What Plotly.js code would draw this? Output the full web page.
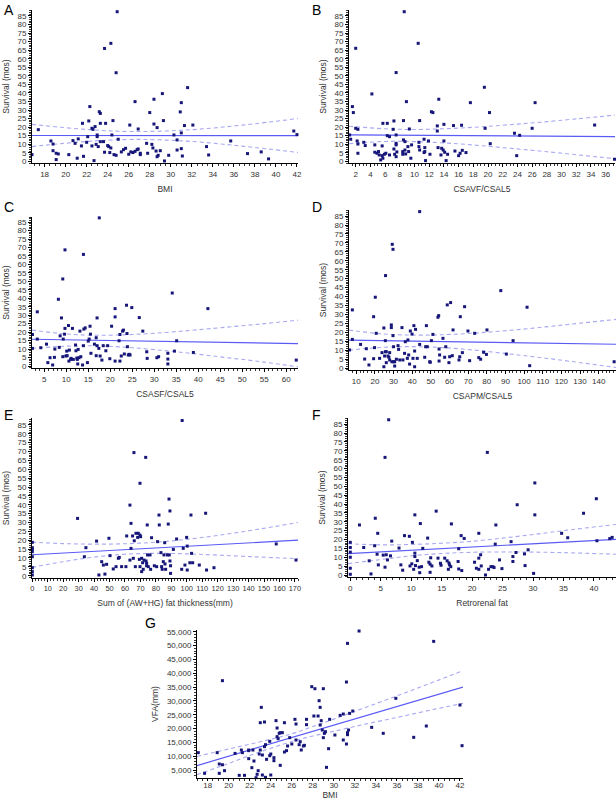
<!DOCTYPE html>
<html><head><meta charset="utf-8">
<script src="https://cdn.plot.ly/plotly-3.0.1.min.js"></script>
<style>body{margin:0;background:#fff}#c{width:616px;height:800px}</style>
</head><body><div id="c"></div>
<script>
// ---------- DATA ----------
// Panel A: Survival vs BMI
const A_x = [16.8,17.4,18.6,18.8,18.8,19.1,19.3,19.1,20.3,20.7,20.9,21.2,21.1,21.6,21.5,21.7,22.0,22.1,22.2,22.3,22.5,22.6,22.5,22.8,22.7,22.9,23.0,23.0,23.1,23.2,23.3,23.3,23.3,23.7,23.6,23.7,23.8,24.0,24.1,24.2,24.3,24.3,24.4,24.5,24.6,24.8,24.8,24.9,25.0,25.3,25.5,25.7,26.1,26.0,26.2,26.4,26.6,26.6,26.8,26.9,26.9,27.1,27.1,27.7,27.8,28.0,28.2,28.3,28.4,28.4,28.6,28.7,28.7,28.8,29.0,29.2,29.3,29.4,29.8,30.3,30.6,30.6,30.9,31.0,31.0,31.0,31.1,31.3,31.6,32.1,33.4,33.6,35.7,37.3,38.6,39.3,41.7,42.0];
const A_y = [3.9,18.5,11.9,10.1,6.2,4.7,4.3,1.0,3.9,12.1,10.5,13.1,1.8,22.2,9.0,2.9,11.1,14.4,23.6,32.0,19.3,18.7,9.0,20.3,0.4,9.9,15.4,14.4,8.6,29.0,28.0,11.5,22.2,66.0,11.5,5.3,22.2,9.2,8.6,5.1,7.8,69.0,15.4,23.8,3.9,51.8,3.5,87.5,12.9,5.5,6.8,7.6,21.2,4.1,5.5,5.1,34.9,5.8,6.8,18.9,7.2,4.7,3.9,10.5,4.7,28.5,9.9,7.8,36.3,21.8,6.0,19.7,2.7,3.5,6.2,39.6,23.8,0.2,3.5,15.4,6.6,12.5,28.9,34.3,7.4,16.6,3.1,20.9,43.1,21.2,8.6,3.7,11.9,4.5,5.5,1.4,17.7,15.6];
const A_fitX = [16.8, 42.1], A_fitY = [15.1, 15.0];
const A_ciX = [16.8, 22, 26.5, 32, 37, 42.1];
const A_ciU = [21.6, 18.6, 17.4, 18.5, 21.3, 25.0];
const A_ciL = [8.6, 11.6, 12.8, 11.6, 8.7, 5.2];

// Panel B: Survival vs CSAVF/CSAL5
const B_x = [1.18,1.32,1.55,1.68,2.0,2.0,2.3,2.2,2.3,2.3,3.1,3.3,4.2,4.6,4.6,4.9,5.1,5.2,5.4,5.6,5.6,5.7,5.7,5.9,6.1,6.3,6.3,6.6,6.6,7.1,7.2,7.2,7.3,7.5,7.5,7.5,7.5,7.6,7.5,8.4,8.4,8.5,8.6,8.5,8.7,8.7,8.8,8.9,9.1,9.2,9.3,9.5,9.6,10.5,10.7,10.6,10.6,10.7,11.3,11.4,11.3,11.4,11.5,11.9,12.1,12.3,12.5,13.1,13.1,13.2,13.3,13.6,13.7,13.9,14.0,14.0,14.1,14.3,14.5,15.3,15.5,16.0,16.2,16.4,16.5,17.0,17.6,19.5,19.6,20.2,20.3,23.6,23.9,24.3,26.0,26.4,34.5,37.2];
const B_y = [15.4,12.9,32.0,28.5,66.1,19.3,18.7,11.9,10.1,4.7,11.1,9.2,39.4,9.6,5.3,4.7,5.7,3.7,0.8,9.0,3.3,1.8,22.2,4.1,4.7,22.2,15.0,14.4,3.7,18.7,23.6,7.2,4.1,51.9,15.4,10.5,9.6,5.5,2.7,5.7,4.1,12.5,87.5,23.8,11.5,6.6,4.3,34.9,8.6,5.7,18.9,1.8,9.6,69.0,23.8,11.1,8.6,6.6,12.9,8.0,5.1,5.7,0.4,11.9,4.1,29.0,28.5,20.7,17.7,8.0,36.3,3.7,7.6,6.6,11.9,21.6,5.3,0.4,4.1,20.9,6.0,3.3,4.7,21.1,6.4,5.1,34.3,43.3,19.3,28.5,10.3,16.4,3.3,15.2,19.3,34.3,21.2,1.2];
const B_fitX = [1.09, 37.27], B_fitY = [15.5, 14.4];
const B_ciX = [1.09, 6, 10, 16, 22, 28, 37.27];
const B_ciU = [20.5, 19.0, 18.6, 19.4, 21.1, 23.2, 27.0];
const B_ciL = [10.3, 11.6, 11.5, 10.2, 8.0, 5.6, 1.5];

// Panel C: Survival vs CSASF/CSAL5
const C_x = [2.3,2.3,3.4,3.4,4.2,5.5,5.8,6.3,6.9,7.3,7.4,8.2,8.4,8.6,8.9,9.2,9.2,9.3,9.6,9.7,9.7,9.9,10.1,10.2,10.5,10.6,10.7,11.0,11.1,11.4,11.6,12.1,12.2,12.4,12.5,12.6,12.7,12.9,13.1,13.3,13.7,13.9,13.9,14.0,14.3,14.8,15.0,15.2,15.4,15.5,15.6,16.4,16.8,16.8,17.0,17.0,17.4,17.7,18.1,18.4,19.0,19.4,19.9,20.3,21.1,21.1,21.1,22.0,22.2,22.2,22.5,22.8,23.0,23.2,23.7,23.8,23.9,24.1,24.3,24.5,24.9,26.6,27.4,28.3,28.4,30.6,31.0,33.1,33.1,33.1,34.1,34.6,35.1,38.9,42.2,62.3,17.5];
const C_y = [18.6,10.4,32.0,15.9,10.8,12.9,2.0,4.9,0.6,5.1,10.0,39.4,11.0,17.8,28.4,5.5,51.4,15.9,18.8,68.6,22.2,5.9,8.8,6.1,23.9,2.9,9.4,3.9,4.5,22.2,3.9,12.4,9.0,4.7,3.9,1.2,9.8,4.9,20.6,5.5,0.6,65.9,12.0,21.8,22.5,2.0,14.7,15.9,23.5,18.8,7.5,12.9,16.7,6.1,12.0,28.4,10.4,5.9,3.5,12.0,9.0,12.0,4.3,23.5,33.9,29.0,2.9,14.9,18.6,2.9,5.9,20.6,21.2,7.1,35.9,19.2,11.4,6.5,6.9,6.5,34.5,28.6,20.6,8.4,4.5,4.9,5.5,7.5,4.1,1.2,43.1,8.8,14.9,8.0,33.9,3.5,87.5];
const C_fitX = [2.2, 62.7], C_fitY = [15.8, 13.2];
const C_ciX = [2.2, 10, 17, 25, 35, 45, 55, 62.7];
const C_ciU = [21.2, 18.9, 18.2, 18.6, 20.3, 22.6, 25.0, 27.1];
const C_ciL = [10.4, 11.7, 11.9, 10.8, 8.4, 5.4, 2.3, -0.5];

// Panel D: Survival vs CSAPM/CSAL5
const D_x = [5.9,6.4,7.9,7.9,12.3,14.5,15.4,16.8,19.3,19.3,19.8,20.2,20.7,22.5,23.8,24.8,24.8,25.2,25.6,25.6,25.7,26.1,26.1,27.0,27.5,27.9,27.9,28.8,28.8,29.1,29.3,29.7,29.7,30.0,30.0,30.6,30.6,31.5,32.4,32.7,33.3,34.5,35.0,35.9,36.3,37.4,37.7,38.1,38.6,39.0,39.9,40.4,40.9,41.3,41.3,41.8,42.7,44.0,46.7,47.2,47.6,48.1,49.4,49.7,50.3,51.1,53.8,54.2,54.4,54.7,54.4,56.5,57.4,58.0,58.8,59.7,60.1,60.6,61.5,61.9,65.1,65.5,65.8,66.9,68.1,69.9,70.8,73.5,75.7,76.7,78.3,79.8,80.1,87.5,90.5,94.1,101.6,103.0,148.3,44.0];
const D_y = [18.8,10.1,32.5,16.0,13.2,5.0,10.8,1.7,28.7,5.2,11.4,39.6,19.4,5.4,8.6,22.4,0.7,6.7,15.3,9.1,51.7,9.1,3.0,6.7,6.0,4.5,8.6,22.6,24.1,3.5,69.2,66.4,18.1,11.9,3.5,1.1,3.5,4.9,12.5,10.4,4.5,22.6,4.5,8.2,14.7,5.4,15.7,7.3,2.2,20.7,19.0,5.4,23.7,9.5,0.7,21.6,5.4,13.2,6.0,11.9,23.7,11.9,3.5,3.2,15.3,18.8,28.4,29.3,10.6,7.3,3.9,16.6,6.0,11.9,35.3,3.0,6.3,36.6,6.9,21.3,4.5,6.3,28.7,8.6,34.3,20.7,4.1,19.4,5.8,4.9,8.8,7.6,21.3,43.3,7.8,15.3,34.0,1.3,3.5,87.5];
const D_fitX = [6.1, 149.3], D_fitY = [15.6, 13.3];
const D_ciX = [6.1, 25, 45, 65, 85, 105, 125, 149.3];
const D_ciU = [21.2, 19.0, 18.4, 19.0, 20.4, 22.3, 24.5, 27.2];
const D_ciL = [10.0, 11.6, 11.9, 10.8, 8.7, 6.3, 3.7, 0.3];

// Panel E: Survival vs Sum of (AW+HG) fat thickness
const E_x = [0,0,0,0,0,0,0,0,29.3,33.7,34.7,41.6,43.1,44.9,46.0,47.0,48.1,49.6,50.3,52.4,54.2,55.7,56.3,57.8,60.6,61.1,63.2,63.2,63.9,63.9,64.9,65.4,65.8,66.0,66.7,67.1,68.2,68.6,69.3,69.7,69.7,69.7,70.1,70.8,70.8,71.4,71.8,72.3,73.4,73.6,74.0,74.0,74.4,74.6,75.1,76.2,76.6,77.2,79.0,80.5,81.1,82.0,82.2,83.3,83.7,84.1,84.8,85.2,85.7,85.9,86.3,87.4,88.0,88.5,88.7,89.1,89.1,89.5,89.5,91.3,93.4,96.7,97.7,98.8,99.9,100.3,100.3,102.0,102.7,103.1,103.8,108.1,112.2,112.8,117.6,157.9,170.7,97.0];
const E_y = [18.8,15.8,14.8,13.5,10.7,4.5,2.3,0.4,32.3,10.7,15.8,19.5,0.4,7.9,6.0,0.9,6.4,21.1,11.3,3.8,5.1,9.8,10.3,5.1,5.1,22.4,39.8,8.8,29.5,15.4,22.4,9.8,69.4,19.7,5.1,23.9,21.6,23.9,9.2,52.1,22.9,5.1,22.0,9.8,2.3,7.3,3.6,8.8,66.7,8.3,7.0,5.6,28.6,11.7,5.1,11.7,3.6,21.4,5.6,5.1,19.2,34.2,28.6,13.0,5.1,3.6,7.9,11.7,18.6,6.6,3.6,11.7,29.1,43.2,11.7,36.5,8.3,5.6,1.3,14.8,20.7,3.6,15.4,6.0,21.6,16.7,3.2,7.3,34.2,12.6,7.3,6.0,35.2,3.2,4.5,17.9,8.8,87.5];
const E_fitX = [-0.2, 172.0], E_fitY = [11.8, 20.0];
const E_ciX = [-0.2, 20, 40, 60, 80, 100, 120, 145, 172.0];
const E_ciU = [18.9, 18.1, 17.8, 18.0, 18.9, 20.5, 22.7, 26.0, 30.0];
const E_ciL = [4.7, 7.9, 10.5, 12.1, 12.6, 12.3, 11.6, 10.6, 9.6];

// Panel F: Survival vs Retrorenal fat
const F_x = [0,0,0,0,0,0,1.5,2.2,3.1,3.4,4.0,4.1,4.4,4.5,4.6,5.4,5.7,5.7,5.9,6.1,6.3,6.6,6.8,8.0,8.3,8.6,8.9,9.7,9.8,10.1,10.2,10.4,10.6,10.6,10.6,10.7,11.0,11.3,11.4,11.5,11.7,11.9,12.7,12.9,13.1,13.1,13.2,13.4,14.1,14.4,14.8,14.9,15.5,15.9,16.1,16.2,16.3,16.5,16.6,17.7,17.8,17.8,18.2,18.3,18.7,20.4,20.7,21.1,21.1,21.1,21.4,21.5,22.2,22.5,22.7,23.1,23.4,23.6,23.8,23.9,24.5,24.9,26.4,26.7,26.7,27.2,27.4,28.6,28.7,29.2,30.1,30.3,30.3,34.7,35.7,38.3,40.4,40.5,42.6,43.0];
const F_y = [18.4,15.5,12.9,10.0,3.8,0.4,28.2,15.5,8.0,0.6,16.5,32.0,11.7,23.5,5.7,11.2,66.3,4.4,11.4,8.5,87.5,10.8,19.1,15.2,5.7,2.7,22.2,21.8,5.1,6.3,18.4,3.2,33.9,12.3,10.4,5.3,8.1,4.4,1.3,29.0,4.7,15.0,20.8,7.2,6.1,1.5,9.7,5.1,36.0,9.5,6.6,5.5,9.5,8.0,3.2,6.8,5.7,4.7,28.8,7.6,14.8,3.4,22.2,2.5,20.6,7.2,3.8,23.5,9.5,3.2,11.4,5.1,0.0,69.1,3.2,4.7,4.7,4.2,17.4,28.2,8.5,3.6,18.8,10.4,7.6,12.7,39.6,11.9,5.3,14.2,0.9,33.9,51.9,23.5,21.0,34.8,43.0,19.3,20.5,21.2];
const F_fitX = [-0.38, 43.63], F_fitY = [12.0, 20.1];
const F_ciX = [-0.38, 5, 10, 15, 20, 25, 30, 35, 43.63];
const F_ciU = [17.6, 17.0, 17.2, 17.9, 19.0, 20.8, 22.8, 25.0, 28.5];
const F_ciL = [6.4, 8.7, 10.8, 12.1, 12.8, 13.0, 12.9, 12.6, 11.7];

// Panel G: VFA vs BMI
const G_x = [17.1,17.7,18.9,19.1,19.1,19.4,19.4,19.6,20.6,21.0,21.2,21.3,21.5,21.9,21.9,21.9,22.2,22.3,22.4,22.5,22.6,22.7,22.8,22.9,23.0,23.0,23.1,23.2,23.2,23.4,23.4,23.5,23.5,23.6,23.9,23.9,24.0,24.0,24.3,24.3,24.5,24.6,24.6,24.7,24.8,24.9,24.9,25.1,25.3,25.3,25.5,25.6,25.8,26.0,26.3,26.4,26.4,26.7,26.8,26.9,27.1,27.2,27.4,27.4,27.9,28.1,28.2,28.5,28.6,28.7,28.7,28.8,28.9,29.0,29.0,29.1,29.2,29.3,29.5,29.6,30.1,30.6,30.9,30.9,31.2,31.2,31.3,31.3,31.3,31.4,31.5,31.8,32.4,33.6,34.7,35.9,37.6,38.8,39.5,42.0,42.2];
const G_y = [11270,3800,11270,3800,7170,37300,6900,4760,11000,3070,12230,11270,3070,12230,9100,12000,5840,12230,8250,2000,2230,3430,4760,10780,22100,12230,27650,10420,3190,22360,13440,14160,2350,8860,15360,10180,10780,3190,9460,8370,22840,20180,17050,16330,18260,18500,6690,18500,22100,11510,12000,13680,16690,14400,23320,21630,15850,14160,15240,12230,13680,13920,23320,21390,35130,24520,34400,24520,30060,21270,27650,22840,19460,16690,34400,18260,18860,5960,12710,23320,17650,24760,25240,15850,14400,36810,50790,17770,18500,19460,25480,26330,55250,20420,18260,30910,16810,20910,51510,28500,13800];
const G_fitX = [16.98, 42.29], G_fitY = [6600, 35000];
const G_ciX = [16.98, 20, 23, 26, 28, 30, 33, 36, 39, 42.29];
const G_ciU = [9900, 12600, 15200, 18100, 20700, 23400, 27600, 31800, 36100, 40900];
const G_ciL = [3300, 7400, 11600, 15300, 17300, 19000, 21600, 24000, 26500, 29100];

// ---------- labels ----------
const panelLetters = ['A','B','C','D','E','F','G'];
const xTitles = ['BMI','CSAVF/CSAL5','CSASF/CSAL5','CSAPM/CSAL5','Sum of (AW+HG) fat thickness(mm)','Retrorenal fat','BMI'];
const yTitles = ['Survival (mos)','Survival (mos)','Survival (mos)','Survival (mos)','Survival (mos)','Survival (mos)','VFA(mm)'];

// ---------- drawing ----------
const W = 616, H = 800;
const FONT = 'Liberation Sans, Arial, sans-serif';
const TXT = '#333';
const panels = [
  {x:A_x,y:A_y,fx:A_fitX,fy:A_fitY,cx:A_ciX,cu:A_ciU,cl:A_ciL, px:[32,298], py:[10,163], xr:[16.8,42.1], yr:[-1.0,88.5], xd:2, xm:0.5, yd:5, ym:1, lx:[2,10], xfs:8, xts:8, xls:0},
  {x:B_x,y:B_y,fx:B_fitX,fy:B_fitY,cx:B_ciX,cu:B_ciU,cl:B_ciL, px:[349,615], py:[10,163], xr:[1.09,37.27], yr:[-1.0,88.5], xd:2, xm:0.5, yd:5, ym:1, lx:[310,10], xfs:8, xts:8, xls:0},
  {x:C_x,y:C_y,fx:C_fitX,fy:C_fitY,cx:C_ciX,cu:C_ciU,cl:C_ciL, px:[32,298], py:[217,368], xr:[2.2,62.7], yr:[-1.18,88.0], xd:5, xm:1, yd:5, ym:1, lx:[2,207], xfs:8, xts:8, xls:0},
  {x:D_x,y:D_y,fx:D_fitX,fy:D_fitY,cx:D_ciX,cu:D_ciU,cl:D_ciL, px:[349,616], py:[210,370], xr:[6.1,149.3], yr:[-1.12,88.4], xd:10, xm:2, yd:5, ym:1, lx:[310,207], xfs:8, xts:8, xls:0},
  {x:E_x,y:E_y,fx:E_fitX,fy:E_fitY,cx:E_ciX,cu:E_ciU,cl:E_ciL, px:[32,298], py:[418,578], xr:[-0.2,172.0], yr:[-1.3,88.9], xd:10, xm:2, yd:5, ym:1, lx:[2,415], xfs:7.4, xts:8, xls:0},
  {x:F_x,y:F_y,fx:F_fitX,fy:F_fitY,cx:F_ciX,cu:F_ciU,cl:F_ciL, px:[348,616], py:[418,577], xr:[-0.38,43.63], yr:[-1.13,88.5], xd:5, xm:1, yd:5, ym:1, lx:[310,415], xfs:8, xts:8, xls:0},
  {x:G_x,y:G_y,fx:G_fitX,fy:G_fitY,cx:G_ciX,cu:G_ciU,cl:G_ciL, px:[197,463], py:[630,778], xr:[16.98,42.29], yr:[2108,55620], xd:2, xm:0.5, yd:5000, ym:1000, lx:[143,623], xfs:8, xts:1, xls:-3}
];

const traces = [];
const layout = {
  width: W, height: H, margin:{l:0,r:0,t:0,b:0},
  paper_bgcolor:'#fff', plot_bgcolor:'#fff', showlegend:false,
  font:{family:FONT, color:TXT, size:8}, annotations:[]
};

panels.forEach((p, i) => {
  const n = i === 0 ? '' : String(i+1);
  const xa = 'x'+n, ya = 'y'+n;
  traces.push({x:p.cx, y:p.cu, xaxis:xa, yaxis:ya, mode:'lines', line:{color:'#a9a9f2', width:1.1, dash:'4px,3px', shape:'spline', smoothing:1}, hoverinfo:'skip'});
  traces.push({x:p.cx, y:p.cl, xaxis:xa, yaxis:ya, mode:'lines', line:{color:'#a9a9f2', width:1.1, dash:'4px,3px', shape:'spline', smoothing:1}, hoverinfo:'skip'});
  traces.push({x:p.fx, y:p.fy, xaxis:xa, yaxis:ya, mode:'lines', line:{color:'#5a5af5', width:1.2}, hoverinfo:'skip'});
  traces.push({x:p.x, y:p.y, xaxis:xa, yaxis:ya, mode:'markers', cliponaxis:false,
    marker:{symbol:'square', size:3, color:'#16167a', line:{width:0}}});

  const axCommon = {showline:true, linecolor:'#000', linewidth:1, showgrid:false, zeroline:false,
    ticks:'outside', ticklen:3, tickwidth:1, tickcolor:'#000', fixedrange:true,
    tickfont:{size:8, color:TXT, family:FONT}};
  layout['xaxis'+n] = Object.assign({}, axCommon, {
    domain:[p.px[0]/W, p.px[1]/W], range:p.xr, anchor:ya, dtick:p.xd, tick0:0, tickangle:0,
    ticklen: i === 6 ? 2 : 3, ticklabelstandoff:p.xls,
    tickfont:{size:p.xfs, color:TXT, family:FONT},
    minor:{ticks:'outside', ticklen:2, tickcolor:'#000', tickwidth:0.8, dtick:p.xm, tick0:0},
    title:{text:xTitles[i], font:{size:8.5, color:TXT, family:FONT}, standoff:p.xts}
  });
  layout['yaxis'+n] = Object.assign({}, axCommon, {
    domain:[1-p.py[1]/H, 1-p.py[0]/H], range:p.yr, anchor:xa, dtick:p.yd, tick0:0,
    tickformat: i === 6 ? ',d' : '',
    minor:{ticks:'outside', ticklen:2, tickcolor:'#000', tickwidth:0.8, dtick:p.ym, tick0:0},
    title:{text:yTitles[i], font:{size:8.5, color:TXT, family:FONT}, standoff:6}
  });
  layout.annotations.push({text:panelLetters[i], xref:'paper', yref:'paper',
    x:p.lx[0]/W, y:1-p.lx[1]/H, xanchor:'left', yanchor:'middle', showarrow:false,
    font:{size:14, color:'#000', family:FONT}});
});

Plotly.newPlot('c', traces, layout, {staticPlot:true, displayModeBar:false});
</script>
</body></html>
